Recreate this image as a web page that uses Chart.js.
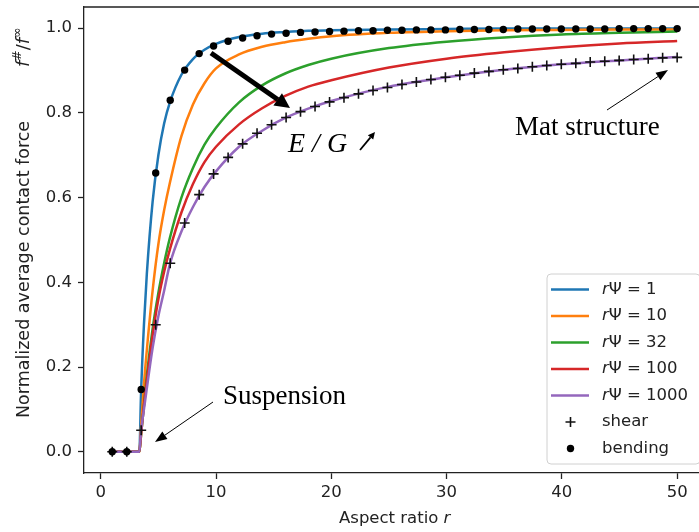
<!DOCTYPE html>
<html lang="en">

<head>
  <meta charset="UTF-8" />
  <script src="https://cdn.jsdelivr.net/npm/chart.js"></script>
  <title>Contact force vs aspect ratio</title>
  <style>
    html, body { margin: 0; padding: 0; overflow: hidden; background: #fff; }
    canvas { display: block; }
  </style>
</head>

<body>
  <canvas id="grafico" width="712" height="532"></canvas>
</body>

</html>

<script>
  // aspect ratio values where the curves were read
  const linhaR = [1, 2, 3, 3.35, 3.5, 3.75, 4, 4.5, 5, 5.5, 6, 7, 8, 9, 10, 12, 14, 16, 18, 20, 25, 30, 35, 40, 45, 50];

  const psi1 = [0, 0, 0, 0, 0.14, 0.30, 0.42, 0.59, 0.70, 0.775, 0.825, 0.89, 0.927, 0.949, 0.963, 0.979, 0.987, 0.991, 0.994, 0.995, 0.997, 0.998, 0.999, 0.999, 0.999, 0.999];
  const psi10 = [0, 0, 0, 0, 0.06, 0.16, 0.24, 0.38, 0.49, 0.57, 0.635, 0.745, 0.82, 0.87, 0.905, 0.938, 0.956, 0.967, 0.975, 0.981, 0.989, 0.993, 0.995, 0.996, 0.997, 0.997];
  const psi32 = [0, 0, 0, 0, 0.04, 0.11, 0.18, 0.29, 0.375, 0.445, 0.505, 0.60, 0.67, 0.725, 0.765, 0.825, 0.865, 0.893, 0.913, 0.928, 0.953, 0.968, 0.978, 0.985, 0.989, 0.992];
  const psi100 = [0, 0, 0, 0, 0.04, 0.11, 0.17, 0.275, 0.36, 0.425, 0.478, 0.565, 0.632, 0.684, 0.72, 0.773, 0.811, 0.84, 0.862, 0.877, 0.907, 0.928, 0.943, 0.955, 0.964, 0.970];
  const psi1000 = [0, 0, 0, 0, 0.05, 0.10, 0.15, 0.245, 0.32, 0.38, 0.443, 0.52, 0.578, 0.625, 0.662, 0.72, 0.758, 0.788, 0.81, 0.828, 0.862, 0.884, 0.902, 0.915, 0.924, 0.932];

  // simulation points
  const pontosR = [1.00, 2.26, 3.51, 4.77, 6.03, 7.28, 8.54, 9.79, 11.05, 12.31, 13.56, 14.82, 16.08, 17.33, 18.59, 19.85, 21.10, 22.36, 23.62, 24.87, 26.13, 27.38, 28.64, 29.90, 31.15, 32.41, 33.67, 34.92, 36.18, 37.44, 38.69, 39.95, 41.21, 42.46, 43.72, 44.97, 46.23, 47.49, 48.74, 50.00];
  const shear = [0, 0, 0.051, 0.30, 0.445, 0.54, 0.607, 0.656, 0.695, 0.727, 0.752, 0.772, 0.789, 0.803, 0.815, 0.826, 0.836, 0.845, 0.853, 0.860, 0.867, 0.873, 0.879, 0.884, 0.889, 0.894, 0.898, 0.902, 0.905, 0.909, 0.912, 0.915, 0.917, 0.920, 0.922, 0.924, 0.926, 0.928, 0.930, 0.931];
  const bending = [0, 0, 0.147, 0.658, 0.830, 0.901, 0.940, 0.958, 0.969, 0.977, 0.982, 0.986, 0.988, 0.990, 0.991, 0.992, 0.993, 0.994, 0.994, 0.995, 0.995, 0.996, 0.996, 0.996, 0.997, 0.997, 0.997, 0.997, 0.998, 0.998, 0.998, 0.998, 0.998, 0.998, 0.998, 0.999, 0.999, 0.999, 0.999, 0.999];

  const xTicks = [0, 10, 20, 30, 40, 50];
  const yTicks = [0, 0.2, 0.4, 0.6, 0.8, 1.0];

  const nomes = ["1", "10", "32", "100", "1000"];
  const cores = ["#1f77b4", "#ff7f0e", "#2ca02c", "#d62728", "#9467bd"];
  const series = [psi1, psi10, psi32, psi100, psi1000];

  const fonte = "'DejaVu Sans'";
  const corTexto = "#222";

  function juntar(xs, ys) {
    return xs.map((x, i) => ({ x: x, y: ys[i] }));
  }

  let datasets = series.map((s, i) => ({
    label: nomes[i],
    data: juntar(linhaR, s),
    borderColor: cores[i],
    backgroundColor: cores[i],
    borderWidth: 2.5,
    pointRadius: 0,
    cubicInterpolationMode: "monotone",
    order: 6 - i,
  }));

  datasets.push({
    label: "shear",
    data: juntar(pontosR, shear),
    showLine: false,
    pointStyle: "cross",
    pointRadius: 5,
    borderColor: "#111",
    borderWidth: 1.6,
    order: 1,
  });

  datasets.push({
    label: "bending",
    data: juntar(pontosR, bending),
    showLine: false,
    pointStyle: "circle",
    pointRadius: 3.7,
    borderWidth: 0,
    backgroundColor: "#000",
    order: 0,
  });

  // draws several pieces of text one after another on the same baseline
  function escrever(ctx, partes, x, y) {
    let pos = x;
    partes.forEach(p => {
      ctx.font = p[1];
      ctx.fillText(p[0], pos, y + (p[2] || 0));
      pos += ctx.measureText(p[0]).width;
    });
    return pos - x;
  }

  function largura(ctx, partes) {
    let total = 0;
    partes.forEach(p => { ctx.font = p[1]; total += ctx.measureText(p[0]).width; });
    return total;
  }

  function seta(ctx, x1, y1, x2, y2, esp, comp, larg) {
    const ang = Math.atan2(y2 - y1, x2 - x1);
    const bx = x2 - comp * Math.cos(ang);
    const by = y2 - comp * Math.sin(ang);
    ctx.strokeStyle = "#000";
    ctx.fillStyle = "#000";
    ctx.lineWidth = esp;
    ctx.beginPath();
    ctx.moveTo(x1, y1);
    ctx.lineTo(bx, by);
    ctx.stroke();
    ctx.beginPath();
    ctx.moveTo(x2, y2);
    ctx.lineTo(bx + (larg / 2) * Math.sin(ang), by - (larg / 2) * Math.cos(ang));
    ctx.lineTo(bx - (larg / 2) * Math.sin(ang), by + (larg / 2) * Math.cos(ang));
    ctx.closePath();
    ctx.fill();
  }

  const desenho = {
    id: "desenho",
    afterDraw(chart) {
      const ctx = chart.ctx;
      const a = chart.chartArea;
      ctx.save();

      // top and right spines
      ctx.strokeStyle = corTexto;
      ctx.lineWidth = 1.3;
      ctx.beginPath();
      ctx.moveTo(a.left, a.top);
      ctx.lineTo(a.right, a.top);
      ctx.lineTo(a.right, a.bottom);
      ctx.stroke();

      ctx.fillStyle = corTexto;
      ctx.textBaseline = "middle";

      // x axis title
      const tx = [["Aspect ratio ", "16.5px " + fonte], ["r", "italic 16.5px " + fonte]];
      escrever(ctx, tx, (a.left + a.right) / 2 - largura(ctx, tx) / 2, 519);

      // y axis title, main words then the f#/f∞ part higher up
      ctx.save();
      ctx.translate(24, 418);
      ctx.rotate(-Math.PI / 2);
      escrever(ctx, [["Normalized average contact force", "17.5px " + fonte]], 0, 0);
      escrever(ctx, [
        ["f", "italic 18px " + fonte],
        ["#", "12.5px " + fonte, -6],
        ["/", "18px " + fonte],
        ["f", "italic 18px " + fonte],
        ["\u221e", "12.5px " + fonte, -6],
      ], 351, 0);
      ctx.restore();

      // annotations
      ctx.fillStyle = "#000";
      ctx.textBaseline = "alphabetic";
      ctx.font = "27px 'Liberation Serif'";
      ctx.fillText("Mat structure", 515, 135);
      ctx.fillText("Suspension", 223, 404);
      ctx.font = "italic 28px 'Liberation Serif'";
      ctx.fillText("E / G", 288, 152);
      seta(ctx, 360, 150, 375, 132, 1.8, 7, 7);

      seta(ctx, 211, 53, 290, 108, 5, 15, 15);
      seta(ctx, 607, 110, 668, 70, 1, 12, 9);
      seta(ctx, 213, 402, 155, 442, 1, 12, 9);

      // legend
      ctx.fillStyle = "rgba(255,255,255,0.85)";
      ctx.strokeStyle = "#d0d0d0";
      ctx.lineWidth = 1;
      ctx.beginPath();
      ctx.roundRect(547, 274, 153, 190, 4);
      ctx.fill();
      ctx.stroke();

      ctx.textBaseline = "middle";
      for (let i = 0; i < 7; i++) {
        const y = 289.5 + i * 26.5;
        if (i < 5) {
          ctx.strokeStyle = cores[i];
          ctx.lineWidth = 2.5;
          ctx.beginPath();
          ctx.moveTo(551, y);
          ctx.lineTo(589, y);
          ctx.stroke();
          ctx.fillStyle = corTexto;
          escrever(ctx, [["r", "italic 16.5px " + fonte], ["\u03a8 = " + nomes[i], "16.5px " + fonte]], 602, y);
        } else if (i === 5) {
          ctx.strokeStyle = "#111";
          ctx.lineWidth = 1.6;
          ctx.beginPath();
          ctx.moveTo(565.5, y); ctx.lineTo(575.5, y);
          ctx.moveTo(570.5, y - 5); ctx.lineTo(570.5, y + 5);
          ctx.stroke();
          ctx.fillStyle = corTexto;
          escrever(ctx, [["shear", "16.5px " + fonte]], 602, y);
        } else {
          ctx.fillStyle = "#000";
          ctx.beginPath();
          ctx.arc(570.5, y, 3.7, 0, Math.PI * 2);
          ctx.fill();
          ctx.fillStyle = corTexto;
          escrever(ctx, [["bending", "16.5px " + fonte]], 602, y);
        }
      }
      ctx.restore();
    },
  };

  const config = {
    type: "line",
    data: { datasets: datasets },
    options: {
      responsive: false,
      animation: false,
      devicePixelRatio: 1,
      layout: { padding: { left: 0, right: 4.4, top: 7, bottom: 0 } },
      scales: {
        x: {
          type: "linear",
          min: -1.45,
          max: 52.45,
          afterBuildTicks: (s) => { s.ticks = xTicks.map(v => ({ value: v })); },
          afterFit: (s) => { s.height = 59; s.paddingLeft = 0; s.paddingRight = 0; },
          grid: { drawOnChartArea: false, drawTicks: true, tickLength: 6, color: corTexto, tickWidth: 1.3 },
          border: { display: true, color: corTexto, width: 1.3 },
          ticks: { color: corTexto, font: { family: "DejaVu Sans", size: 16.5 }, padding: 4, maxRotation: 0 },
        },
        y: {
          min: -0.05,
          max: 1.05,
          afterBuildTicks: (s) => { s.ticks = yTicks.map(v => ({ value: v })); },
          afterFit: (s) => { s.width = 84; s.paddingTop = 0; s.paddingBottom = 0; },
          grid: { drawOnChartArea: false, drawTicks: true, tickLength: 6, color: corTexto, tickWidth: 1.3 },
          border: { display: true, color: corTexto, width: 1.3 },
          ticks: { color: corTexto, font: { family: "DejaVu Sans", size: 16.5 }, padding: 6, callback: (v) => v.toFixed(1) },
        },
      },
      plugins: {
        legend: { display: false },
        tooltip: { enabled: false },
      },
    },
    plugins: [desenho],
  };

  let myChart = new Chart(document.getElementById("grafico").getContext("2d"), config);
</script>
